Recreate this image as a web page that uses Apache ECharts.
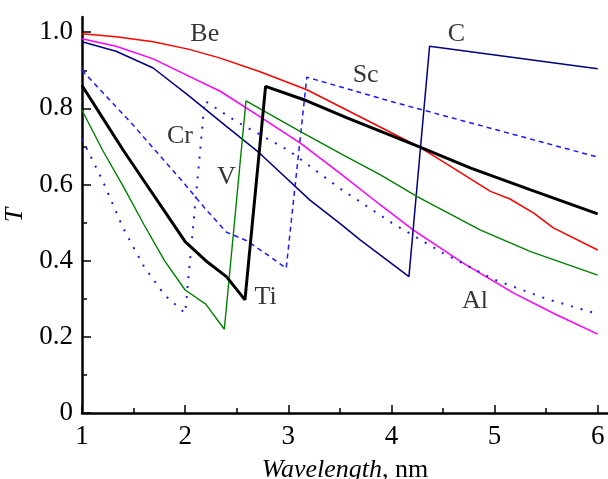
<!DOCTYPE html>
<html>
<head>
<meta charset="utf-8">
<script src="https://cdn.jsdelivr.net/npm/echarts@6/dist/echarts.min.js"></script>
<style>
  html, body { margin: 0; padding: 0; background: #fff; }
  #chart { width: 608px; height: 479px; }
</style>
</head>
<body>
<div id="chart"></div>
<script>
// Axis ticks
var xMajor = [1, 2, 3, 4, 5, 6];
var xMinor = [1.5, 2.5, 3.5, 4.5, 5.5];
var yMajor = [0, 0.2, 0.4, 0.6, 0.8, 1.0];
var yMinor = [0.1, 0.3, 0.5, 0.7, 0.9];

// Transmission curves [wavelength, T]
var beData = [[1, 0.996], [1.33, 0.988], [1.69, 0.975], [2.04, 0.955], [2.34, 0.932], [2.72, 0.897],
  [3.18, 0.849], [3.5, 0.805], [3.89, 0.751], [4.26, 0.70], [4.5, 0.66], [4.96, 0.582], [5.15, 0.562],
  [5.38, 0.525], [5.57, 0.486], [6, 0.428]];
var alData = [[1, 0.983], [1.33, 0.963], [1.69, 0.93], [2.04, 0.884], [2.34, 0.845], [2.72, 0.779],
  [3.12, 0.708], [3.5, 0.63], [3.89, 0.547], [4.21, 0.481], [4.7, 0.393], [5.19, 0.314], [5.6, 0.258], [6, 0.207]];
var cData = [[1, 0.975], [1.33, 0.95], [1.69, 0.906], [2.04, 0.832], [2.34, 0.766], [2.72, 0.683],
  [3.21, 0.559], [3.5, 0.498], [3.7, 0.454], [4.17, 0.358], [4.37, 0.963], [6, 0.904]];
var scData = [[1, 0.90], [1.5, 0.755], [2, 0.60], [2.2, 0.535], [2.4, 0.475], [2.6, 0.452], [2.8, 0.415],
  [2.98, 0.38], [3.18, 0.882], [4, 0.818], [5, 0.745], [6, 0.672]];
var crData = [[1, 0.72], [1.2, 0.61], [1.4, 0.485], [1.6, 0.385], [1.8, 0.31], [2.0, 0.262], [2.19, 0.82],
  [2.5, 0.765], [3, 0.69], [3.5, 0.59], [4, 0.50], [4.5, 0.42], [5, 0.35], [5.5, 0.30], [6, 0.26]];
var vData = [[1, 0.795], [1.2, 0.69], [1.4, 0.595], [1.6, 0.495], [1.8, 0.40], [2.0, 0.323], [2.2, 0.286],
  [2.38, 0.22], [2.59, 0.82], [3.11, 0.74], [3.53, 0.678], [3.89, 0.626], [4.25, 0.568], [4.86, 0.481],
  [5.35, 0.424], [6, 0.362]];
var tiData = [[1, 0.86], [1.2, 0.775], [1.4, 0.69], [1.6, 0.61], [1.8, 0.53], [2.0, 0.45], [2.2, 0.40],
  [2.4, 0.358], [2.58, 0.297], [2.78, 0.858], [3.18, 0.82], [3.57, 0.775], [4.26, 0.70], [4.77, 0.643],
  [5.35, 0.586], [6, 0.523]];

// Curve labels [wavelength, T, text]
var curveLabels = [[2.19, 0.994, 'Be'], [4.63, 0.996, 'C'], [3.75, 0.886, 'Sc'], [1.95, 0.727, 'Cr'],
  [2.40, 0.62, 'V'], [2.78, 0.305, 'Ti'], [4.81, 0.294, 'Al']];

var serif = '"Liberation Serif", "Times New Roman", serif';

var chart = echarts.init(document.getElementById('chart'));

function lineSeries(name, data, color, width, type) {
  return {
    name: name,
    type: 'line',
    data: data,
    showSymbol: false,
    symbol: 'none',
    lineStyle: { color: color, width: width, type: type || 'solid' },
    z: 3
  };
}

chart.setOption({
  animation: false,
  textStyle: { fontFamily: serif },
  grid: { left: 82, right: 0, top: 17, bottom: 66, outerBoundsMode: 'none', containLabel: false },
  xAxis: [
    {
      type: 'value',
      min: 1,
      max: 6.1,
      name: '{i|Wavelength}, nm',
      nameLocation: 'middle',
      nameGap: 44,
      nameTextStyle: {
        fontFamily: serif, fontSize: 26, color: '#000',
        rich: { i: { fontFamily: serif, fontSize: 26, fontStyle: 'italic', color: '#000' } }
      },
      axisLine: { lineStyle: { color: '#000', width: 2.5 } },
      axisTick: { inside: true, length: 8, customValues: xMajor, lineStyle: { color: '#000', width: 1.5 } },
      axisLabel: { customValues: xMajor, margin: 10, fontSize: 27, color: '#000', fontFamily: serif },
      splitLine: { show: false }
    },
    {
      type: 'value',
      min: 1,
      max: 6.1,
      position: 'bottom',
      axisLine: { show: false },
      axisTick: { inside: true, length: 5, customValues: xMinor, lineStyle: { color: '#000', width: 1.5 } },
      axisLabel: { show: false },
      splitLine: { show: false }
    }
  ],
  yAxis: [
    {
      type: 'value',
      min: 0,
      max: 1.04,
      position: 'left',
      name: 'T',
      nameLocation: 'middle',
      nameGap: 52,
      nameTextStyle: { fontFamily: serif, fontSize: 26, fontStyle: 'italic', color: '#000' },
      axisLine: { show: true, lineStyle: { color: '#000', width: 2.5 } },
      axisTick: { show: true, inside: true, length: 9, customValues: yMajor, lineStyle: { color: '#000', width: 1.5 } },
      axisLabel: {
        customValues: yMajor, margin: 9, fontSize: 27, color: '#000', fontFamily: serif,
        formatter: function (v) { return v === 0 ? '0' : v.toFixed(1); }
      },
      splitLine: { show: false }
    },
    {
      type: 'value',
      min: 0,
      max: 1.04,
      position: 'left',
      axisLine: { show: false },
      axisTick: { show: true, inside: true, length: 5, customValues: yMinor, lineStyle: { color: '#000', width: 1.5 } },
      axisLabel: { show: false },
      splitLine: { show: false }
    }
  ],
  series: [
    lineSeries('Be', beData, '#ff0000', 1.5),
    lineSeries('Al', alData, '#ff00ff', 1.5),
    lineSeries('C', cData, '#000080', 1.5),
    lineSeries('Sc', scData, '#1a1aff', 1.5, [5, 4]),
    lineSeries('Cr', crData, '#1a1add', 2, [2, 8]),
    lineSeries('V', vData, '#008000', 1.4),
    lineSeries('Ti', tiData, '#000000', 3),
    {
      name: 'labels',
      type: 'scatter',
      data: curveLabels,
      symbolSize: 1,
      itemStyle: { color: 'rgba(0,0,0,0)' },
      label: {
        show: true,
        position: 'inside',
        formatter: function (p) { return p.value[2]; },
        fontFamily: serif,
        fontSize: 26,
        color: '#000',
        textBorderWidth: 0
      },
      z: 5
    }
  ]
});
</script>
</body>
</html>
